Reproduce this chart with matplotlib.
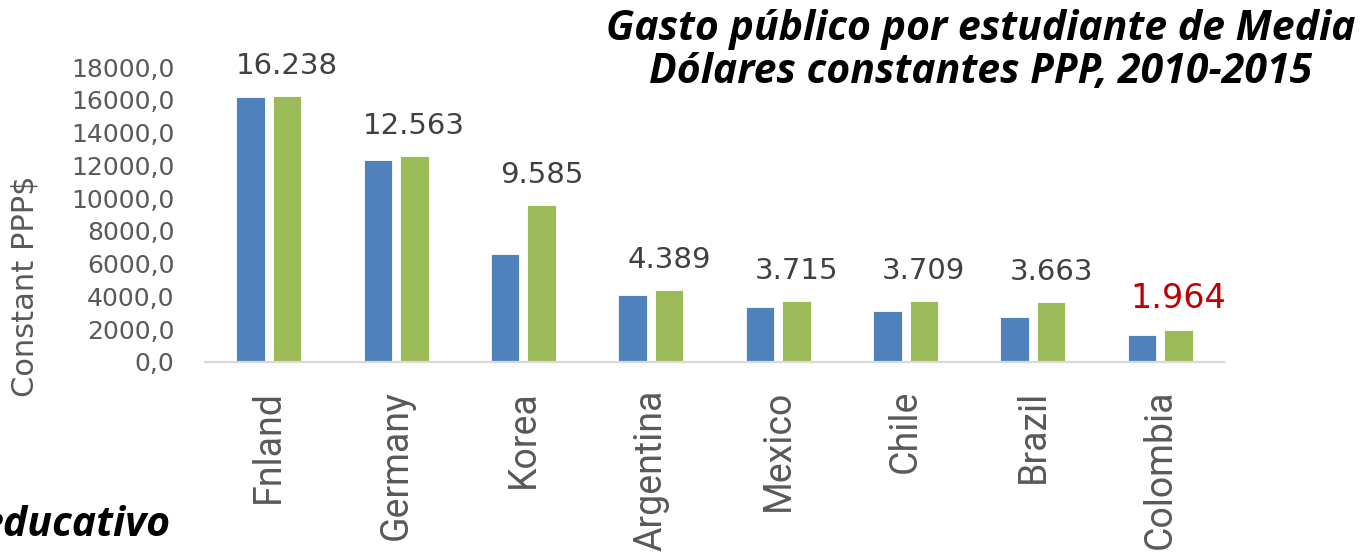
import numpy
import matplotlib
matplotlib.use('Agg')
import matplotlib.pyplot
from matplotlib.ticker import FuncFormatter

countries = ['Fnland', 'Germany', 'Korea', 'Argentina', 'Mexico', 'Chile', 'Brazil', 'Colombia']
gasto_2010 = [16150, 12300, 6600, 4100, 3340, 3110, 2720, 1660]
gasto_2015 = [16238, 12563, 9585, 4389, 3715, 3709, 3663, 1964]
yticks = [0, 2000, 4000, 6000, 8000, 10000, 12000, 14000, 16000, 18000]
title_lines = ['Gasto público por estudiante de Media', 'Dólares constantes PPP, 2010-2015']
ylabel = 'Constant PPP$'
leftover = 'educativo'

W, H = 1370, 556

def px(x, y):
	# pixel coordinates (from top-left) to figure fraction
	return x / W, 1 - y / H

def main():
	fig = matplotlib.pyplot.figure(figsize = (W / 100, H / 100), dpi = 100)
	x0, y0 = px(205, 362)
	x1, y1 = px(1224, 67)
	ax = fig.add_axes([x0, y0, x1 - x0, y1 - y0])

	x = numpy.arange(len(countries))
	width = 0.224
	ax.bar(x - 0.143, gasto_2010, width, color = '#4F81BD', edgecolor = 'white', linewidth = 0.6)
	ax.bar(x + 0.143, gasto_2015, width, color = '#9BBB59', edgecolor = 'white', linewidth = 0.6)

	for i, v in enumerate(gasto_2015):
		label = '{:,.0f}'.format(v).replace(',', '.')
		red = countries[i] == 'Colombia'
		ax.annotate(label, (x[i] + 0.143, v), xytext = (0, 16), textcoords = 'offset points',
			ha = 'center', va = 'baseline', fontsize = 24 if red else 21,
			color = '#C00000' if red else '#404040', family = 'DejaVu Sans')

	ax.set_xlim(-0.5, len(countries) - 0.5)
	ax.set_ylim(0, 18000)
	ax.set_yticks(yticks)
	ax.yaxis.set_major_formatter(FuncFormatter(lambda v, p: ('%.1f' % v).replace('.', ',')))
	ax.tick_params(axis = 'y', length = 0, pad = 22, labelsize = 18, labelcolor = '#595959')
	ax.set_xticks(x)
	ax.set_xticklabels(countries, rotation = 90, family = 'Roboto', fontsize = 27, color = '#595959')
	ax.tick_params(axis = 'x', length = 0, pad = 20)

	for side in ['top', 'right', 'left']:
		ax.spines[side].set_visible(False)
	ax.spines['bottom'].set_color('#D9D9D9')
	ax.spines['bottom'].set_linewidth(1.6)

	fig.text(*px(25, 286), ylabel, rotation = 90, ha = 'center', va = 'center',
		fontsize = 22, color = '#595959')

	fig.text(*px(981, 40), title_lines[0], ha = 'center', va = 'baseline',
		family = 'Open Sans', fontweight = 'bold', style = 'italic', fontsize = 29.5)
	fig.text(*px(981, 83), title_lines[1], ha = 'center', va = 'baseline',
		family = 'Open Sans', fontweight = 'bold', style = 'italic', fontsize = 29.5)
	fig.text(*px(170, 536), leftover, ha = 'right', va = 'baseline',
		family = 'Open Sans', fontweight = 'bold', style = 'italic', fontsize = 29.5)

	fig.savefig('out.png', dpi = 100)

if __name__ == '__main__':
	main()
